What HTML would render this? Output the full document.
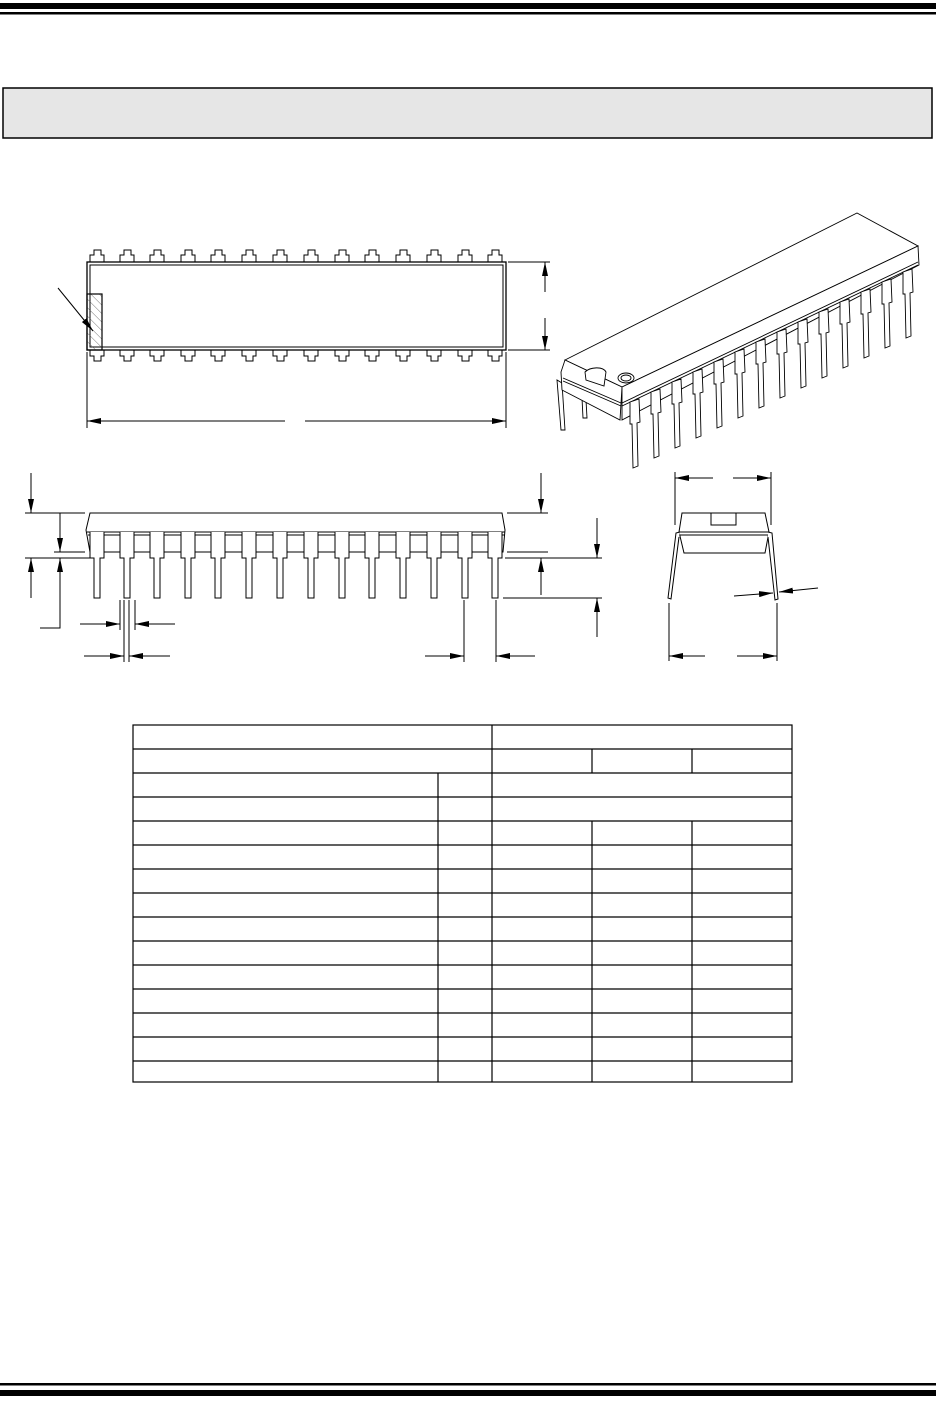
<!DOCTYPE html>
<html><head><meta charset="utf-8"><style>
html,body{margin:0;padding:0;background:#fff;}
body{width:936px;height:1412px;position:relative;overflow:hidden;font-family:"Liberation Sans",sans-serif;}
svg{position:absolute;left:0;top:0;}
</style></head><body>
<svg width="936" height="1412" viewBox="0 0 936 1412" xmlns="http://www.w3.org/2000/svg">
<defs>
<marker id="ar" markerWidth="14" markerHeight="8" refX="14" refY="4" orient="auto" markerUnits="userSpaceOnUse"><path d="M0,1 L14,4 L0,7 Z" fill="#000"/></marker>
<pattern id="hat" width="6" height="6" patternUnits="userSpaceOnUse" patternTransform="rotate(-45)"><line x1="0" y1="0" x2="0" y2="6" stroke="#555" stroke-width="0.8"/></pattern>
<g id="tabT"><path d="M-7,13 V5 H-3 V0 H4 V5 H7 V13" fill="#fff" stroke="#000" stroke-width="1"/></g>
<g id="tabB"><path d="M-7,0 V6 H-3 V11 H4 V6 H7 V0" fill="#fff" stroke="#000" stroke-width="1"/></g>
<g id="lead"><path d="M-7,0 V26 H-3 V66 H3 V26 H7 V0" fill="#fff" stroke="#000" stroke-width="1"/></g>
<g id="lead3"><path d="M0,0 L9,-3 L10,20 L7,21 L8,64 L3,66 L2,22 L0,22 Z" fill="#fff" stroke="#000" stroke-width="0.9"/></g>
</defs>
<!-- header bars -->
<rect x="0" y="3" width="936" height="6" fill="#000"/>
<rect x="0" y="12" width="936" height="2.5" fill="#000"/>
<rect x="3" y="88" width="929" height="50" fill="#e6e6e6" stroke="#000" stroke-width="1.5"/>
<!-- bottom bars -->
<rect x="0" y="1383" width="936" height="2.5" fill="#000"/>
<rect x="0" y="1390" width="936" height="6" fill="#000"/>

<g stroke="#000" fill="none" stroke-width="1">
<!-- TOP VIEW -->
<g>
<use href="#tabT" x="97" y="250"/><use href="#tabT" x="127" y="250"/><use href="#tabT" x="157" y="250"/><use href="#tabT" x="188" y="250"/><use href="#tabT" x="218" y="250"/><use href="#tabT" x="249" y="250"/><use href="#tabT" x="280" y="250"/><use href="#tabT" x="311" y="250"/><use href="#tabT" x="342" y="250"/><use href="#tabT" x="372" y="250"/><use href="#tabT" x="403" y="250"/><use href="#tabT" x="434" y="250"/><use href="#tabT" x="465" y="250"/><use href="#tabT" x="495" y="250"/>
<use href="#tabB" x="97" y="350"/><use href="#tabB" x="127" y="350"/><use href="#tabB" x="157" y="350"/><use href="#tabB" x="188" y="350"/><use href="#tabB" x="218" y="350"/><use href="#tabB" x="249" y="350"/><use href="#tabB" x="280" y="350"/><use href="#tabB" x="311" y="350"/><use href="#tabB" x="342" y="350"/><use href="#tabB" x="372" y="350"/><use href="#tabB" x="403" y="350"/><use href="#tabB" x="434" y="350"/><use href="#tabB" x="465" y="350"/><use href="#tabB" x="495" y="350"/>
</g>
<rect x="87" y="262" width="419" height="88" fill="#fff" stroke-width="1.3"/>
<rect x="90" y="265" width="413" height="82"/>
<rect x="87" y="294" width="15" height="56" fill="url(#hat)" stroke-width="1.2"/>
<line x1="58" y1="288" x2="93" y2="331" marker-end="url(#ar)"/>
<line x1="508" y1="262" x2="550" y2="262"/><line x1="508" y1="350" x2="550" y2="350"/>
<line x1="545" y1="292" x2="545" y2="262" marker-end="url(#ar)"/>
<line x1="545" y1="318" x2="545" y2="350" marker-end="url(#ar)"/>
<line x1="87" y1="352" x2="87" y2="428"/><line x1="506" y1="352" x2="506" y2="428"/>
<line x1="285" y1="421" x2="87" y2="421" marker-end="url(#ar)"/>
<line x1="305" y1="421" x2="506" y2="421" marker-end="url(#ar)"/>

<!-- SIDE VIEW -->
<path d="M90,513 H502 L505,530 L503,552 H90 L86,530 Z" fill="#fff"/>
<line x1="87" y1="532" x2="505" y2="532"/><line x1="88" y1="535" x2="505" y2="535"/>
<g>
<use href="#lead" x="97" y="532"/><use href="#lead" x="127" y="532"/><use href="#lead" x="157" y="532"/><use href="#lead" x="188" y="532"/><use href="#lead" x="218" y="532"/><use href="#lead" x="249" y="532"/><use href="#lead" x="280" y="532"/><use href="#lead" x="311" y="532"/><use href="#lead" x="342" y="532"/><use href="#lead" x="372" y="532"/><use href="#lead" x="403" y="532"/><use href="#lead" x="434" y="532"/><use href="#lead" x="465" y="532"/><use href="#lead" x="495" y="532"/>
</g>
<line x1="25" y1="513" x2="85" y2="513"/><line x1="25" y1="558" x2="90" y2="558"/>
<line x1="54" y1="552" x2="85" y2="552"/>
<line x1="31" y1="473" x2="31" y2="513" marker-end="url(#ar)"/>
<line x1="31" y1="598" x2="31" y2="558" marker-end="url(#ar)"/>
<line x1="60" y1="513" x2="60" y2="552" marker-end="url(#ar)"/>
<polyline points="40,628 60,628 60,558" marker-end="url(#ar)"/>
<line x1="507" y1="513" x2="548" y2="513"/><line x1="507" y1="552" x2="548" y2="552"/>
<line x1="541" y1="473" x2="541" y2="513" marker-end="url(#ar)"/>
<line x1="541" y1="595" x2="541" y2="558" marker-end="url(#ar)"/>
<line x1="505" y1="558" x2="602" y2="558"/><line x1="503" y1="598" x2="602" y2="598"/>
<line x1="597" y1="518" x2="597" y2="558" marker-end="url(#ar)"/>
<line x1="597" y1="637" x2="597" y2="598" marker-end="url(#ar)"/>
<line x1="120" y1="600" x2="120" y2="630"/><line x1="135" y1="600" x2="135" y2="630"/>
<line x1="80" y1="624" x2="120" y2="624" marker-end="url(#ar)"/>
<line x1="175" y1="624" x2="135" y2="624" marker-end="url(#ar)"/>
<line x1="124" y1="600" x2="124" y2="662"/><line x1="129" y1="600" x2="129" y2="662"/>
<line x1="84" y1="656" x2="124" y2="656" marker-end="url(#ar)"/>
<line x1="170" y1="656" x2="129" y2="656" marker-end="url(#ar)"/>
<line x1="464" y1="600" x2="464" y2="662"/><line x1="496" y1="600" x2="496" y2="662"/>
<line x1="425" y1="656" x2="464" y2="656" marker-end="url(#ar)"/>
<line x1="535" y1="656" x2="496" y2="656" marker-end="url(#ar)"/>

<!-- END VIEW -->
<path d="M682,513 H765 L769,532 L765,553 H684 L679,532 Z" fill="#fff"/>
<line x1="679" y1="532" x2="769" y2="532"/><line x1="679" y1="535" x2="769" y2="535"/>
<rect x="711" y="513" width="25" height="12"/>
<path d="M680,532 L676,533 L668,598 L671,599 L679,537" fill="#fff"/>
<path d="M768,532 L772,533 L778,599 L775,600 L768,537" fill="#fff"/>
<line x1="675" y1="472" x2="675" y2="525"/><line x1="771" y1="472" x2="771" y2="525"/>
<line x1="713" y1="478" x2="675" y2="478" marker-end="url(#ar)"/>
<line x1="733" y1="478" x2="771" y2="478" marker-end="url(#ar)"/>
<line x1="669" y1="603" x2="669" y2="661"/><line x1="777" y1="603" x2="777" y2="661"/>
<line x1="705" y1="656" x2="669" y2="656" marker-end="url(#ar)"/>
<line x1="737" y1="656" x2="777" y2="656" marker-end="url(#ar)"/>
<line x1="734" y1="596" x2="773" y2="593" marker-end="url(#ar)"/>
<line x1="818" y1="588" x2="779" y2="592" marker-end="url(#ar)"/>

<!-- 3D VIEW -->
<g stroke-width="0.9">
<path d="M557,380 L561,430 L565,430 L562,383 Z" fill="#fff"/>
<path d="M582,398 L583,418 L587,418 L586,400 Z" fill="#fff"/>
<path d="M565,360 L857,213 L918,246 L622,387 Z" fill="#fff"/>
<path d="M565,360 L561,372 L562,390 L620,420 L622,387 Z" fill="#fff"/>
<path d="M622,387 L918,246 L919,265 L622,420 Z" fill="#fff"/>
<line x1="563" y1="378" x2="621" y2="403"/><line x1="563" y1="381" x2="621" y2="406"/>
<line x1="622" y1="403" x2="918" y2="262"/><line x1="622" y1="406" x2="918" y2="265"/>
<path d="M585,372 C590,367 603,366 606,372 L604,386 L586,380 Z" fill="#fff"/>
<ellipse cx="626" cy="378" rx="8" ry="5"/><ellipse cx="626" cy="378" rx="5" ry="3"/>
<use href="#lead3" x="630" y="402"/><use href="#lead3" x="651" y="392"/><use href="#lead3" x="672" y="382"/><use href="#lead3" x="693" y="372"/><use href="#lead3" x="714" y="362"/><use href="#lead3" x="735" y="352"/><use href="#lead3" x="756" y="342"/><use href="#lead3" x="777" y="332"/><use href="#lead3" x="798" y="322"/><use href="#lead3" x="819" y="312"/><use href="#lead3" x="840" y="302"/><use href="#lead3" x="861" y="292"/><use href="#lead3" x="882" y="282"/><use href="#lead3" x="903" y="272"/>
</g>
</g>

<!-- TABLE -->
<g stroke="#000" stroke-width="1.2" fill="none">
<rect x="133" y="725" width="659" height="357"/>
<line x1="133" y1="749" x2="792" y2="749"/>
<line x1="133" y1="773" x2="792" y2="773"/>
<line x1="133" y1="797" x2="792" y2="797"/>
<line x1="133" y1="821" x2="792" y2="821"/>
<line x1="133" y1="845" x2="792" y2="845"/>
<line x1="133" y1="869" x2="792" y2="869"/>
<line x1="133" y1="893" x2="792" y2="893"/>
<line x1="133" y1="917" x2="792" y2="917"/>
<line x1="133" y1="941" x2="792" y2="941"/>
<line x1="133" y1="965" x2="792" y2="965"/>
<line x1="133" y1="989" x2="792" y2="989"/>
<line x1="133" y1="1013" x2="792" y2="1013"/>
<line x1="133" y1="1037" x2="792" y2="1037"/>
<line x1="133" y1="1061" x2="792" y2="1061"/>
<line x1="492" y1="725" x2="492" y2="1082"/>
<line x1="438" y1="773" x2="438" y2="1082"/>
<line x1="592" y1="749" x2="592" y2="773"/><line x1="692" y1="749" x2="692" y2="773"/>
<line x1="592" y1="821" x2="592" y2="1082"/><line x1="692" y1="821" x2="692" y2="1082"/>
</g>
</svg>
</body></html>
